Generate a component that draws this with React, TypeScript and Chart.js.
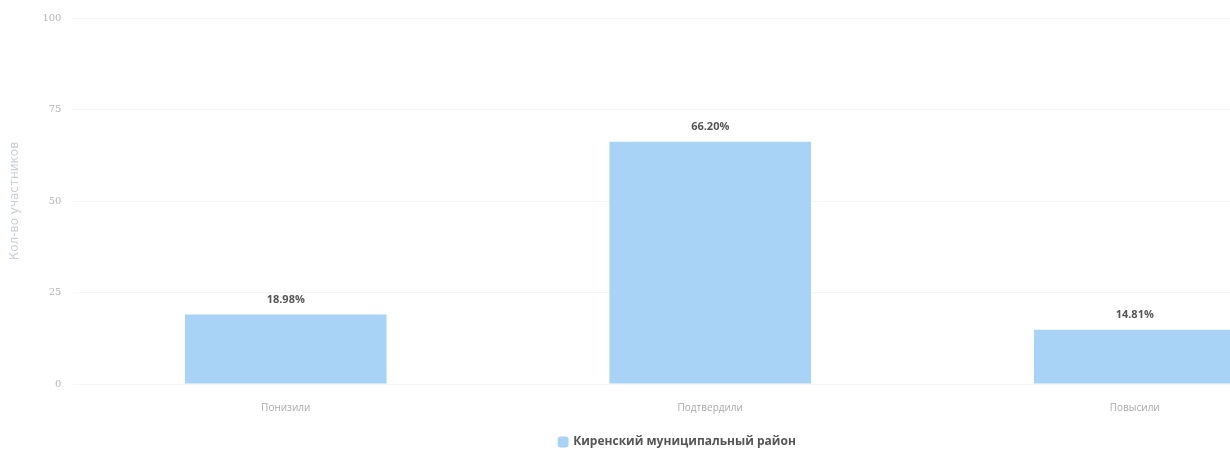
import React, { useEffect, useRef } from "react";
import { Chart, registerables } from "chart.js";

Chart.register(...registerables);

const categories = ["Понизили", "Подтвердили", "Повысили"];
const seriesName = "Киренский муниципальный район";
const seriesValues = [18.98, 66.2, 14.81];
const yTicks = [0, 25, 50, 75, 100];
const yTitle = "Кол-во участников";

const valueLabels = {
  id: "valueLabels",
  afterDatasetsDraw(chart: any) {
    const ctx = chart.ctx;
    const meta = chart.getDatasetMeta(0);
    ctx.save();
    ctx.font = "bold 11px 'Open Sans'";
    ctx.fillStyle = "#555";
    ctx.textAlign = "center";
    ctx.textBaseline = "bottom";
    meta.data.forEach((bar: any, i: number) => {
      const v = chart.data.datasets[0].data[i] as number;
      ctx.fillText(v.toFixed(2) + "%", bar.x, bar.y - 9);
    });
    ctx.restore();
  },
};

const legendShift = {
  id: "legendShift",
  afterLayout(chart: any) {
    if (chart.legend) {
      chart.legend.top += 4;
      chart.legend.bottom += 4;
    }
  },
};

export default function App() {
  const ref = useRef<HTMLCanvasElement>(null);
  useEffect(() => {
    document.body.style.margin = "0";
    document.body.style.overflow = "hidden";
    const chart = new Chart(ref.current!, {
      type: "bar",
      data: {
        labels: categories,
        datasets: [
          {
            label: seriesName,
            data: seriesValues,
            backgroundColor: "rgb(168, 211, 246)",
            borderWidth: 0,
            barPercentage: 0.95,
            categoryPercentage: 0.5,
          },
        ],
      },
      options: {
        animation: false,
        responsive: false,
        devicePixelRatio: 1,
        layout: { padding: { top: 17, left: 8, right: 8, bottom: 0 } },
        plugins: {
          legend: {
            position: "bottom",
            labels: {
              usePointStyle: true,
              pointStyle: "rectRounded",
              boxWidth: 8,
              boxHeight: 9,
              color: "#555",
              font: { family: "'Open Sans'", size: 12, weight: "bold" },
              padding: 8,
            },
          },
          tooltip: { enabled: false },
        },
        scales: {
          x: {
            grid: { display: false },
            border: { display: false },
            ticks: {
              color: "#aaa",
              font: { family: "'Open Sans'", size: 10 },
              padding: 10,
            },
          },
          y: {
            min: 0,
            max: 100,
            afterBuildTicks: (axis: any) => {
              axis.ticks = yTicks.map((v) => ({ value: v }));
            },
            grid: { color: "rgba(0,0,0,0.04)", drawTicks: false },
            border: { display: false },
            ticks: {
              color: "#b5b5b5",
              font: { family: "'DejaVu Serif'", size: 10 },
              padding: 12,
            },
            title: {
              display: true,
              text: yTitle,
              color: "#c8d0dc",
              font: { family: "'DejaVu Sans'", size: 12 },
              padding: { top: 0, bottom: 8 },
            },
          },
        },
      },
      plugins: [valueLabels, legendShift],
    });
    return () => chart.destroy();
  }, []);
  return (
    <div style={{ width: 1355, height: 454, position: "absolute", left: 0, top: 0 }}>
      <canvas ref={ref} width={1355} height={454} />
    </div>
  );
}
